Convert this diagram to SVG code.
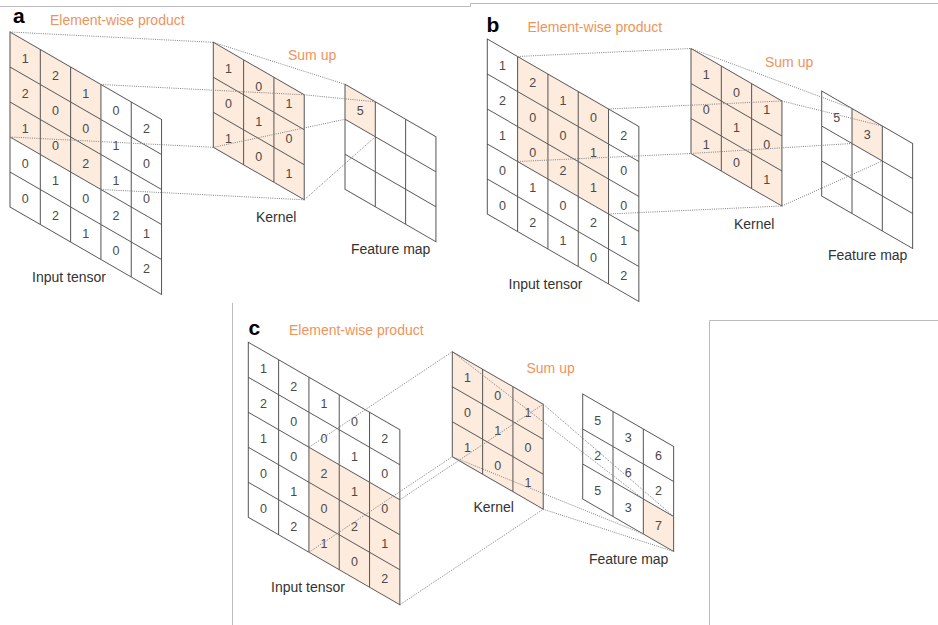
<svg xmlns="http://www.w3.org/2000/svg" width="938" height="625" viewBox="0 0 938 625">
  <style>
    .grid { fill: none; stroke: #555; stroke-width: 1; }
    .hl { fill: #FDEBDD; stroke: none; }
    .face { fill: #fff; stroke: none; }
    .n { font-family: "Liberation Sans", "DejaVu Sans", sans-serif; font-size: 12.5px; fill: #4a4a4a; text-anchor: middle; }
    .lbl { font-family: "Liberation Sans", Arial, sans-serif; font-size: 14px; fill: #333; }
    .org { font-family: "Liberation Sans", Arial, sans-serif; font-size: 14px; fill: #F0935B; }
    .tag { font-family: "Liberation Sans", Arial, sans-serif; font-size: 21px; font-weight: bold; fill: #000; }
    .conn line { stroke: #808080; stroke-width: 1; stroke-dasharray: 1 1.2; }
    .frame { stroke: #bbb; stroke-width: 1; fill: none; }
  </style>
  <defs>
    <!-- 5x5 and 3x3 cell grids in unsheared units: cells 30.31 wide, 35 tall -->
    <path id="grid5" d="M0 0H151.55V175H0ZM30.31 0V175M60.62 0V175M90.93 0V175M121.24 0V175M0 35H151.55M0 70H151.55M0 105H151.55M0 140H151.55"/>
    <path id="grid3" d="M0 0H90.93V105H0ZM30.31 0V105M60.62 0V105M0 35H90.93M0 70H90.93"/>
  </defs>

  <!-- panel frames -->
  <g id="frames">
    <path class="frame" d="M0 6.5H470.5V3.5H938"/>
    <path class="frame" d="M232.5 303V625"/>
    <path class="frame" d="M709.5 625V320.5H938"/>
  </g>

  <!-- ===== panel a ===== -->
  <g id="panel-a-labels">
    <text class="tag" x="13" y="23">a</text>
    <text class="org" x="50" y="25">Element-wise product</text>
    <text class="org" x="288" y="60">Sum up</text>
    <text class="lbl" x="256" y="222">Kernel</text>
    <text class="lbl" x="351" y="254">Feature map</text>
    <text class="lbl" x="32" y="282">Input tensor</text>
  </g>

  <g id="a-input" transform="translate(10 32)">
    <g transform="matrix(1 0.5774 0 1 0 0)">
      <rect class="face" width="151.55" height="175"/>
      <rect class="hl" width="90.93" height="105"/>
      <use href="#grid5" class="grid"/>
    </g>
    <text class="n" x="15.16" y="30.75">1</text><text class="n" x="15.16" y="65.75">2</text><text class="n" x="15.16" y="100.75">1</text><text class="n" x="15.16" y="135.75">0</text><text class="n" x="15.16" y="170.75">0</text>
    <text class="n" x="45.47" y="48.25">2</text><text class="n" x="45.47" y="83.25">0</text><text class="n" x="45.47" y="118.25">0</text><text class="n" x="45.47" y="153.25">1</text><text class="n" x="45.47" y="188.25">2</text>
    <text class="n" x="75.78" y="65.75">1</text><text class="n" x="75.78" y="100.75">0</text><text class="n" x="75.78" y="135.75">2</text><text class="n" x="75.78" y="170.75">0</text><text class="n" x="75.78" y="205.75">1</text>
    <text class="n" x="106.09" y="83.25">0</text><text class="n" x="106.09" y="118.25">1</text><text class="n" x="106.09" y="153.25">1</text><text class="n" x="106.09" y="188.25">2</text><text class="n" x="106.09" y="223.25">0</text>
    <text class="n" x="136.4" y="100.75">2</text><text class="n" x="136.4" y="135.75">0</text><text class="n" x="136.4" y="170.75">0</text><text class="n" x="136.4" y="205.75">1</text><text class="n" x="136.4" y="240.75">2</text>
  </g>

  <g id="a-kernel" transform="translate(213.3 42.3)">
    <g transform="matrix(1 0.5774 0 1 0 0)">
      <rect class="hl" width="90.93" height="105"/>
      <use href="#grid3" class="grid"/>
    </g>
    <text class="n" x="15.16" y="30.75">1</text><text class="n" x="15.16" y="65.75">0</text><text class="n" x="15.16" y="100.75">1</text>
    <text class="n" x="45.47" y="48.25">0</text><text class="n" x="45.47" y="83.25">1</text><text class="n" x="45.47" y="118.25">0</text>
    <text class="n" x="75.78" y="65.75">1</text><text class="n" x="75.78" y="100.75">0</text><text class="n" x="75.78" y="135.75">1</text>
  </g>

  <g id="a-feature" transform="translate(345 84.3)">
    <g transform="matrix(1 0.5774 0 1 0 0)">
      <rect class="face" width="90.93" height="105"/>
      <rect class="hl" width="30.31" height="35"/>
      <use href="#grid3" class="grid"/>
    </g>
    <text class="n" x="15.16" y="30.75">5</text>
  </g>

  <!-- ===== panel b ===== -->
  <g id="panel-b-labels">
    <text class="tag" x="486.5" y="31.5">b</text>
    <text class="org" x="527.5" y="31.5">Element-wise product</text>
    <text class="org" x="765" y="66.5">Sum up</text>
    <text class="lbl" x="734" y="229">Kernel</text>
    <text class="lbl" x="828" y="260">Feature map</text>
    <text class="lbl" x="508.5" y="289">Input tensor</text>
  </g>

  <g id="b-input" transform="translate(487.3 39)">
    <g transform="matrix(1 0.5774 0 1 0 0)">
      <rect class="face" width="151.55" height="175"/>
      <rect class="hl" x="30.31" width="90.93" height="105"/>
      <use href="#grid5" class="grid"/>
    </g>
    <text class="n" x="15.16" y="30.75">1</text><text class="n" x="15.16" y="65.75">2</text><text class="n" x="15.16" y="100.75">1</text><text class="n" x="15.16" y="135.75">0</text><text class="n" x="15.16" y="170.75">0</text>
    <text class="n" x="45.47" y="48.25">2</text><text class="n" x="45.47" y="83.25">0</text><text class="n" x="45.47" y="118.25">0</text><text class="n" x="45.47" y="153.25">1</text><text class="n" x="45.47" y="188.25">2</text>
    <text class="n" x="75.78" y="65.75">1</text><text class="n" x="75.78" y="100.75">0</text><text class="n" x="75.78" y="135.75">2</text><text class="n" x="75.78" y="170.75">0</text><text class="n" x="75.78" y="205.75">1</text>
    <text class="n" x="106.09" y="83.25">0</text><text class="n" x="106.09" y="118.25">1</text><text class="n" x="106.09" y="153.25">1</text><text class="n" x="106.09" y="188.25">2</text><text class="n" x="106.09" y="223.25">0</text>
    <text class="n" x="136.4" y="100.75">2</text><text class="n" x="136.4" y="135.75">0</text><text class="n" x="136.4" y="170.75">0</text><text class="n" x="136.4" y="205.75">1</text><text class="n" x="136.4" y="240.75">2</text>
  </g>

  <g id="b-kernel" transform="translate(691 48.5)">
    <g transform="matrix(1 0.5774 0 1 0 0)">
      <rect class="hl" width="90.93" height="105"/>
      <use href="#grid3" class="grid"/>
    </g>
    <text class="n" x="15.16" y="30.75">1</text><text class="n" x="15.16" y="65.75">0</text><text class="n" x="15.16" y="100.75">1</text>
    <text class="n" x="45.47" y="48.25">0</text><text class="n" x="45.47" y="83.25">1</text><text class="n" x="45.47" y="118.25">0</text>
    <text class="n" x="75.78" y="65.75">1</text><text class="n" x="75.78" y="100.75">0</text><text class="n" x="75.78" y="135.75">1</text>
  </g>

  <g id="b-feature" transform="translate(821.7 91)">
    <g transform="matrix(1 0.5774 0 1 0 0)">
      <rect class="face" width="90.93" height="105"/>
      <rect class="hl" x="30.31" width="30.31" height="35"/>
      <use href="#grid3" class="grid"/>
    </g>
    <text class="n" x="15.16" y="30.75">5</text>
    <text class="n" x="45.47" y="48.25">3</text>
  </g>

  <!-- ===== panel c ===== -->
  <g id="panel-c-labels">
    <text class="tag" x="248.5" y="335">c</text>
    <text class="org" x="289" y="334.5">Element-wise product</text>
    <text class="org" x="526.5" y="373">Sum up</text>
    <text class="lbl" x="473.5" y="512">Kernel</text>
    <text class="lbl" x="589" y="564">Feature map</text>
    <text class="lbl" x="271" y="592">Input tensor</text>
  </g>

  <g id="c-input" transform="translate(248.3 342.3)">
    <g transform="matrix(1 0.5774 0 1 0 0)">
      <rect class="face" width="151.55" height="175"/>
      <rect class="hl" x="60.62" y="70" width="90.93" height="105"/>
      <use href="#grid5" class="grid"/>
    </g>
    <text class="n" x="15.16" y="30.75">1</text><text class="n" x="15.16" y="65.75">2</text><text class="n" x="15.16" y="100.75">1</text><text class="n" x="15.16" y="135.75">0</text><text class="n" x="15.16" y="170.75">0</text>
    <text class="n" x="45.47" y="48.25">2</text><text class="n" x="45.47" y="83.25">0</text><text class="n" x="45.47" y="118.25">0</text><text class="n" x="45.47" y="153.25">1</text><text class="n" x="45.47" y="188.25">2</text>
    <text class="n" x="75.78" y="65.75">1</text><text class="n" x="75.78" y="100.75">0</text><text class="n" x="75.78" y="135.75">2</text><text class="n" x="75.78" y="170.75">0</text><text class="n" x="75.78" y="205.75">1</text>
    <text class="n" x="106.09" y="83.25">0</text><text class="n" x="106.09" y="118.25">1</text><text class="n" x="106.09" y="153.25">1</text><text class="n" x="106.09" y="188.25">2</text><text class="n" x="106.09" y="223.25">0</text>
    <text class="n" x="136.4" y="100.75">2</text><text class="n" x="136.4" y="135.75">0</text><text class="n" x="136.4" y="170.75">0</text><text class="n" x="136.4" y="205.75">1</text><text class="n" x="136.4" y="240.75">2</text>
  </g>

  <g id="c-kernel" transform="translate(452.3 351.7)">
    <g transform="matrix(1 0.5774 0 1 0 0)">
      <rect class="hl" width="90.93" height="105"/>
      <use href="#grid3" class="grid"/>
    </g>
    <text class="n" x="15.16" y="30.75">1</text><text class="n" x="15.16" y="65.75">0</text><text class="n" x="15.16" y="100.75">1</text>
    <text class="n" x="45.47" y="48.25">0</text><text class="n" x="45.47" y="83.25">1</text><text class="n" x="45.47" y="118.25">0</text>
    <text class="n" x="75.78" y="65.75">1</text><text class="n" x="75.78" y="100.75">0</text><text class="n" x="75.78" y="135.75">1</text>
  </g>

  <g id="c-feature" transform="translate(582.7 394)">
    <g transform="matrix(1 0.5774 0 1 0 0)">
      <rect class="face" width="90.93" height="105"/>
      <rect class="hl" x="60.62" y="70" width="30.31" height="35"/>
      <use href="#grid3" class="grid"/>
    </g>
    <text class="n" x="15.16" y="30.75">5</text><text class="n" x="15.16" y="65.75">2</text><text class="n" x="15.16" y="100.75">5</text>
    <text class="n" x="45.47" y="48.25">3</text><text class="n" x="45.47" y="83.25">6</text><text class="n" x="45.47" y="118.25">3</text>
    <text class="n" x="75.78" y="65.75">6</text><text class="n" x="75.78" y="100.75">2</text><text class="n" x="75.78" y="135.75">7</text>
  </g>

  <!-- dotted projection lines: window corners -> kernel corners -> output cell corners -->
  <g id="connectors" class="conn">
    <line x1="10" y1="32" x2="213.3" y2="42.3"/>
    <line x1="100.93" y1="84.5" x2="304.23" y2="94.8"/>
    <line x1="10" y1="137" x2="213.3" y2="147.3"/>
    <line x1="100.93" y1="189.5" x2="304.23" y2="199.8"/>
    <line x1="213.3" y1="42.3" x2="345" y2="84.3"/>
    <line x1="304.23" y1="94.8" x2="375.31" y2="101.8"/>
    <line x1="213.3" y1="147.3" x2="345" y2="119.3"/>
    <line x1="304.23" y1="199.8" x2="375.31" y2="136.8"/>

    <line x1="517.61" y1="56.5" x2="691" y2="48.5"/>
    <line x1="608.54" y1="109" x2="781.93" y2="101"/>
    <line x1="517.61" y1="161.5" x2="691" y2="153.5"/>
    <line x1="608.54" y1="214" x2="781.93" y2="206"/>
    <line x1="691" y1="48.5" x2="852.01" y2="108.5"/>
    <line x1="781.93" y1="101" x2="882.32" y2="126"/>
    <line x1="691" y1="153.5" x2="852.01" y2="143.5"/>
    <line x1="781.93" y1="206" x2="882.32" y2="161"/>

    <line x1="308.92" y1="447.3" x2="452.3" y2="351.7"/>
    <line x1="399.85" y1="499.8" x2="543.23" y2="404.2"/>
    <line x1="308.92" y1="552.3" x2="452.3" y2="456.7"/>
    <line x1="399.85" y1="604.8" x2="543.23" y2="509.2"/>
    <line x1="452.3" y1="351.7" x2="643.32" y2="499"/>
    <line x1="543.23" y1="404.2" x2="673.63" y2="516.5"/>
    <line x1="452.3" y1="456.7" x2="643.32" y2="534"/>
    <line x1="543.23" y1="509.2" x2="673.63" y2="551.5"/>
  </g>
</svg>
